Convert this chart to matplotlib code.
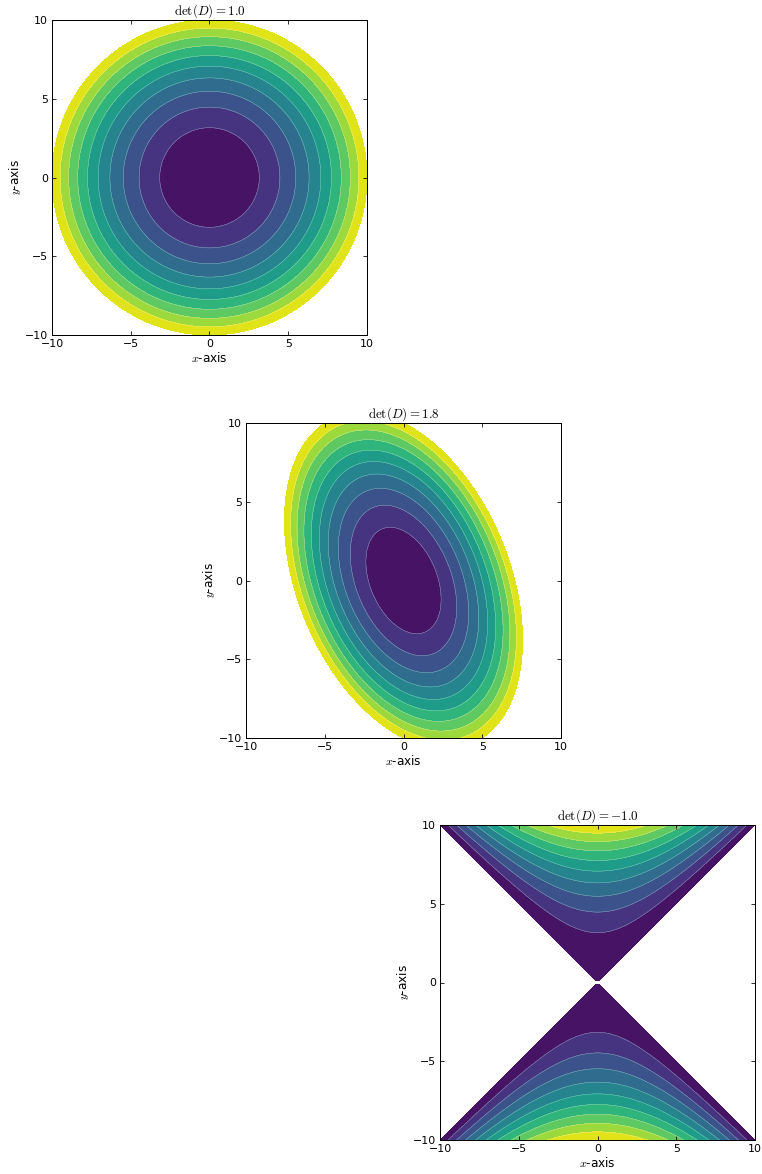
import numpy as np
import matplotlib
matplotlib.use("Agg")
import matplotlib.pyplot as plt

plt.rcParams['mathtext.fontset'] = 'cm'
plt.rcParams['font.family'] = ['DejaVu Sans']
plt.rcParams['font.size'] = 12
plt.rcParams['xtick.direction'] = 'in'
plt.rcParams['ytick.direction'] = 'in'
plt.rcParams['xtick.top'] = True
plt.rcParams['ytick.right'] = True
plt.rcParams['xtick.major.size'] = 4
plt.rcParams['ytick.major.size'] = 4
plt.rcParams['xtick.major.pad'] = 4
plt.rcParams['ytick.major.pad'] = 4
plt.rcParams['axes.linewidth'] = 1.0

# Quadratic form matrices D = [[a, b], [b, c]]
D_a = [1.0, 2.0, -1.0]
D_b = [0.0, 0.5, 0.0]
D_c = [1.0, 1.0, 1.0]
titles = [r"$\det(D) = 1.0$", r"$\det(D) = 1.8$", r"$\det(D) = -1.0$"]
levels = [0, 10, 20, 30, 40, 50, 60, 70, 80, 90, 100]
ticks = [-10, -5, 0, 5, 10]
tick_labels = ["\u221210", "\u22125", "0", "5", "10"]

W, H = 762, 1174
dpi = 72
fig = plt.figure(figsize=(W / dpi, H / dpi), dpi=dpi)

# axes boxes in pixels: left, top, width, height
boxes = [(52, 20, 315, 315), (246, 423, 315, 315), (440, 825, 315, 315)]

x = np.linspace(-10, 10, 100)
X, Y = np.meshgrid(x, x)

for i in range(3):
    l, t, w, h = boxes[i]
    ax = fig.add_axes([l / W, 1 - (t + h) / H, w / W, h / H])
    Z = D_a[i] * X**2 + 2 * D_b[i] * X * Y + D_c[i] * Y**2
    ax.contourf(X, Y, Z, levels=levels, cmap='viridis', vmin=0, vmax=100)
    ax.contour(X, Y, Z, levels=levels[1:-1], colors='white', linewidths=0.4, alpha=0.55)
    ax.set_xlim(-10, 10)
    ax.set_ylim(-10, 10)
    ax.set_xticks(ticks)
    ax.set_yticks(ticks)
    ax.set_xticklabels(tick_labels, fontsize=11)
    ax.set_yticklabels(tick_labels, fontsize=11)
    ax.set_title(titles[i], fontsize=13, pad=2)
    ax.set_xlabel(r"$x$-axis", fontsize=12, labelpad=2)
    ax.set_ylabel(r"$y$-axis", fontsize=12, labelpad=2)

fig.savefig("out.png", dpi=dpi)
